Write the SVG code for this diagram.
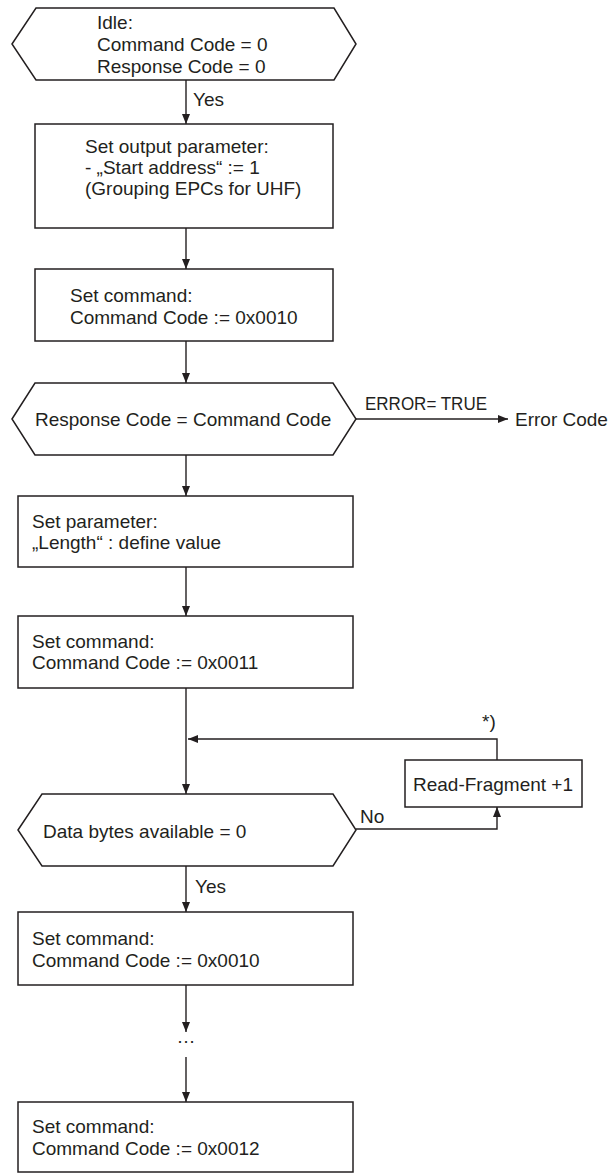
<svg xmlns="http://www.w3.org/2000/svg" width="610" height="1174" viewBox="0 0 610 1174">
<style>
.n{fill:#fff;stroke:#231f20;stroke-width:1.5}
.t{font-family:"Liberation Sans",Arial,sans-serif;font-size:19px;fill:#231f20}
.c{fill:none;stroke:#231f20;stroke-width:1.4}
</style>
<defs>
<marker id="ah" markerUnits="userSpaceOnUse" markerWidth="10" markerHeight="8" refX="10" refY="4" orient="auto">
<path d="M0,0 L10,4 L0,8 z" fill="#231f20"/>
</marker>
</defs>
<rect width="610" height="1174" fill="#fff"/>
<g id="connectors">
<line class="c" x1="186" y1="80" x2="186" y2="124" marker-end="url(#ah)"/>
<line class="c" x1="186" y1="228" x2="186" y2="269" marker-end="url(#ah)"/>
<line class="c" x1="186" y1="341" x2="186" y2="383" marker-end="url(#ah)"/>
<line class="c" x1="356" y1="419" x2="508" y2="419" marker-end="url(#ah)"/>
<line class="c" x1="186" y1="455" x2="186" y2="496" marker-end="url(#ah)"/>
<line class="c" x1="186" y1="567" x2="186" y2="616" marker-end="url(#ah)"/>
<line class="c" x1="186" y1="688" x2="186" y2="794" marker-end="url(#ah)"/>
<polyline class="c" points="497,760 497,739 188,739" marker-end="url(#ah)"/>
<polyline class="c" points="356,829 497,829 497,807" marker-end="url(#ah)"/>
<line class="c" x1="186" y1="866" x2="186" y2="912" marker-end="url(#ah)"/>
<line class="c" x1="186" y1="985" x2="186" y2="1032" marker-end="url(#ah)"/>
<line class="c" x1="186" y1="1057" x2="186" y2="1102" marker-end="url(#ah)"/>
<text class="t" x="193" y="106">Yes</text>
<text class="t" x="365" y="410" textLength="122" lengthAdjust="spacingAndGlyphs">ERROR= TRUE</text>
<text class="t" x="482" y="728">*)</text>
<text class="t" x="360" y="823">No</text>
<text class="t" x="195" y="893">Yes</text>
<text class="t" x="186" y="1043" text-anchor="middle">…</text>
</g>
<g id="idle">
<polygon class="n" points="12,44 36,8 334,8 356,44 334,80 36,80"/>
<text class="t" x="97" y="29">Idle:</text>
<text class="t" x="97" y="51">Command Code = 0</text>
<text class="t" x="97" y="73">Response Code = 0</text>
</g>
<g id="set-output-param">
<rect class="n" x="35" y="124" width="298" height="104"/>
<text class="t" x="85" y="153">Set output parameter:</text>
<text class="t" x="85" y="174">- „Start address“ := 1</text>
<text class="t" x="85" y="195">(Grouping EPCs for UHF)</text>
</g>
<g id="set-cmd-0010">
<rect class="n" x="35" y="269" width="298" height="72"/>
<text class="t" x="70" y="302">Set command:</text>
<text class="t" x="70" y="324">Command Code := 0x0010</text>
</g>
<g id="resp-eq-cmd">
<polygon class="n" points="12,419 35,383 333,383 356,419 333,455 35,455"/>
<text class="t" x="35" y="426">Response Code = Command Code</text>
</g>
<g id="error-code">
<text class="t" x="515" y="426">Error Code</text>
</g>
<g id="set-param-length">
<rect class="n" x="18" y="496" width="335" height="71"/>
<text class="t" x="32" y="528">Set parameter:</text>
<text class="t" x="32" y="549">„Length“ : define value</text>
</g>
<g id="set-cmd-0011">
<rect class="n" x="18" y="616" width="335" height="72"/>
<text class="t" x="32" y="648">Set command:</text>
<text class="t" x="32" y="669">Command Code := 0x0011</text>
</g>
<g id="read-fragment">
<rect class="n" x="405" y="760" width="177" height="47"/>
<text class="t" x="493" y="791" text-anchor="middle">Read-Fragment +1</text>
</g>
<g id="data-bytes">
<polygon class="n" points="18,830 42,794 333,794 356,830 333,866 42,866"/>
<text class="t" x="43" y="838">Data bytes available = 0</text>
</g>
<g id="set-cmd-0010b">
<rect class="n" x="18" y="912" width="335" height="73"/>
<text class="t" x="32" y="945">Set command:</text>
<text class="t" x="32" y="967">Command Code := 0x0010</text>
</g>
<g id="set-cmd-0012">
<rect class="n" x="18" y="1102" width="335" height="70"/>
<text class="t" x="32" y="1133">Set command:</text>
<text class="t" x="32" y="1155">Command Code := 0x0012</text>
</g>
</svg>
